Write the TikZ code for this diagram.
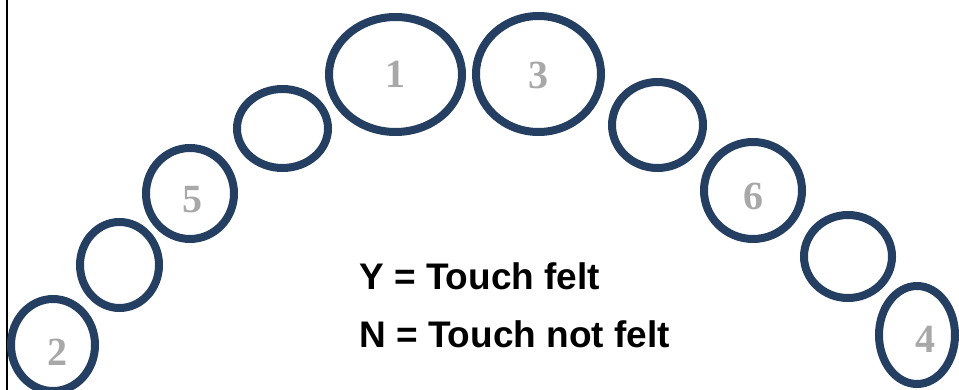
\documentclass[tikz,border=0pt]{standalone}
\usepackage{fontspec}
\setmainfont{Liberation Serif}
\newfontfamily\arialfont{Liberation Sans}
\usetikzlibrary{shapes.geometric}
\definecolor{ringblue}{HTML}{243F61}
\definecolor{digitgray}{HTML}{A8A8A8}
\begin{document}
\begin{tikzpicture}[x=1pt,y=-1pt,
  ring/.style={draw=ringblue, line width=8pt, ellipse, inner sep=0pt},
  digit/.style={anchor=base, text=digitgray, font=\fontsize{40}{40}\selectfont\bfseries, inner sep=0pt},
  legend/.style={anchor=base west, font=\arialfont\bfseries\fontsize{37}{37}\selectfont, inner sep=0pt}]
\useasboundingbox (0,0) rectangle (959,390);
\fill[white] (0,0) rectangle (959,390);
\draw[line width=2pt, black] (7,-2) -- (7,392);
% rings: centre, width = 2 rx, height = 2 ry
\node[ring, minimum width=133pt, minimum height=115pt] (r1) at (395.5,74.5) {};
\node[ring, minimum width=125pt, minimum height=116pt] (r3) at (538.5,74) {};
\node[ring, minimum width=91pt, minimum height=79pt] (rUL) at (282.5,128.5) {};
\node[ring, minimum width=88pt, minimum height=91pt] (r5) at (190,193.5) {};
\node[ring, minimum width=79pt, minimum height=86pt] (rLL) at (119.5,265) {};
\node[ring, minimum width=84pt, minimum height=92pt] (r2) at (53,345) {};
\node[ring, minimum width=91pt, minimum height=86pt] (rUR) at (657.5,125) {};
\node[ring, minimum width=98pt, minimum height=97pt] (r6) at (753,190.5) {};
\node[ring, minimum width=88pt, minimum height=83pt] (rLR) at (848,256.5) {};
\node[ring, minimum width=76pt, minimum height=98pt] (r4) at (917,335) {};
% digits
\node[digit] (d1) at (395,88) {1};
\node[digit] (d3) at (538,89) {3};
\node[digit] (d5) at (192,213) {5};
\node[digit] (d6) at (753,210) {6};
\node[digit] (d2) at (57,365) {2};
\node[digit] (d4) at (925,352) {4};
% legend
\node[legend] (ly) at (359,290) {Y = Touch felt};
\node[legend] (ln) at (359,347) {N = Touch not felt};
\end{tikzpicture}
\end{document}
